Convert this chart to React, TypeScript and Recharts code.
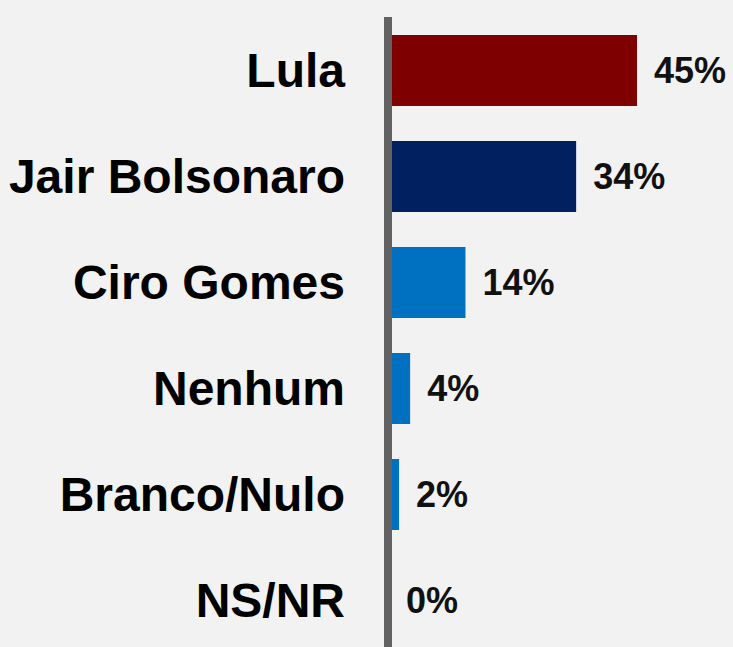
import React from 'react';
import { BarChart, Bar, XAxis, YAxis, Cell, LabelList } from 'recharts';

const candidates = ['Lula', 'Jair Bolsonaro', 'Ciro Gomes', 'Nenhum', 'Branco/Nulo', 'NS/NR'];
const shares = [45, 34, 14, 4, 2, 0];
const barColors = ['#7f0000', '#002060', '#0070c0', '#0070c0', '#0070c0', '#0070c0'];

const data = candidates.map((name, i) => ({ name, value: shares[i] }));

const FONT = '"Liberation Sans", Arial, sans-serif';

export default function App() {
  return (
    <div
      style={{
        position: 'absolute',
        top: 0,
        left: 0,
        width: 733,
        height: 647,
        overflow: 'hidden',
        background: '#f2f2f2',
      }}
    >
      <BarChart
        width={733}
        height={653}
        data={data}
        layout="vertical"
        margin={{ top: 17, right: 13, bottom: 0, left: 0 }}
        barSize={71}
      >
        <XAxis type="number" domain={[0, 60]} hide />
        <YAxis
          type="category"
          dataKey="name"
          width={388}
          tickLine={false}
          tickSize={0}
          tickMargin={43}
          axisLine={{ stroke: '#626262', strokeWidth: 8 }}
          tick={{ fontSize: 48, fontWeight: 'bold', fill: '#000', fontFamily: FONT }}
          interval={0}
        />
        {/* minPointSize keeps the 0% bar (hidden under the axis) so its label still shows */}
        <Bar dataKey="value" isAnimationActive={false} minPointSize={1}>
          {data.map((d, i) => (
            <Cell key={d.name} fill={barColors[i]} />
          ))}
          <LabelList
            dataKey="value"
            position="right"
            offset={17}
            formatter={(v: number) => `${v}%`}
            style={{ fontSize: 36, fontWeight: 'bold', fill: '#111', fontFamily: FONT }}
          />
        </Bar>
      </BarChart>
    </div>
  );
}
